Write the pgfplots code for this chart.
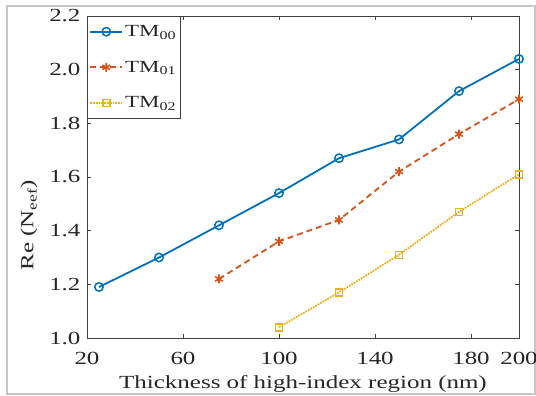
\documentclass[border=0pt]{standalone}
\usepackage{fontspec}
\setmainfont{Liberation Serif}[FakeStretch=1.35]
\usepackage{pgfplots}
\pgfplotsset{compat=1.18}
\definecolor{mblue}{rgb}{0,0.447,0.741}
\definecolor{morange}{rgb}{0.851,0.325,0.098}
\definecolor{myellow}{rgb}{0.929,0.694,0.125}
\begin{document}
\begin{tikzpicture}
\useasboundingbox (-87bp,-58bp) rectangle (449bp,338bp);
\draw[black!22,line width=1.5bp] (-80bp,-56bp) rectangle (448bp,332bp);
\begin{axis}[
  at={(0,0)}, anchor=south west,
  scale only axis, width=432bp, height=322bp,
  xmin=20, xmax=200, ymin=1.0, ymax=2.2,
  xtick={20,60,100,140,180,200},
  ytick={1.0,1.2,1.4,1.6,1.8,2.0,2.2},
  /pgf/number format/assume math mode=true,
  tick align=inside, major tick length=4bp,
  axis line style={black!75,line width=0.8bp},
  tick style={black!75,line width=0.8bp},
  tick label style={font=\fontsize{18.5bp}{21bp}\selectfont, text=black!85},
  xticklabel style={anchor=base, yshift=-26bp},
  yticklabel style={xshift=-3bp, /pgf/number format/.cd, fixed, fixed zerofill, precision=1},
  label style={font=\fontsize{18.5bp}{21bp}\selectfont, text=black!85},
  xlabel={Thickness of high-index region (nm)},
  ylabel={Re (N\textsubscript{eef})},
  xlabel style={at={(rel axis cs:0.5,0)}, anchor=base, yshift=-50bp},
  ylabel style={at={(rel axis cs:0,0.35)}, anchor=center, yshift=58bp},
  legend style={at={(0,1)}, anchor=north west, draw=black!75, line width=0.8bp,
    font=\fontsize{17bp}{19bp}\selectfont, text=black!85, row sep=19bp,
    inner xsep=2bp, inner ysep=7bp},
  legend cell align=left,
  legend image code/.code={\draw[mark repeat=2,mark phase=2] plot coordinates {(0bp,0bp) (16bp,0bp) (32bp,0bp)};},
]
\addplot[mblue, line width=1.8bp, mark=o, mark size=4.2bp, mark options={solid,line width=1.5bp}]
  coordinates {(25,1.19) (50,1.30) (75,1.42) (100,1.54) (125,1.67) (150,1.74) (175,1.92) (200,2.04)};
\addlegendentry{TM\textsubscript{00}}
\addplot[morange, line width=1.8bp, dash pattern=on 6bp off 4bp, mark=asterisk, mark size=4.5bp, mark options={solid,line width=1.6bp}]
  coordinates {(75,1.22) (100,1.36) (125,1.44) (150,1.62) (175,1.76) (200,1.89)};
\addlegendentry{TM\textsubscript{01}}
\addplot[myellow, line width=1.8bp, densely dotted, mark=square, mark size=3.5bp, mark options={solid,line width=1.5bp,fill=myellow!25}]
  coordinates {(100,1.04) (125,1.17) (150,1.31) (175,1.47) (200,1.61)};
\addlegendentry{TM\textsubscript{02}}
\end{axis}
\end{tikzpicture}
\end{document}
